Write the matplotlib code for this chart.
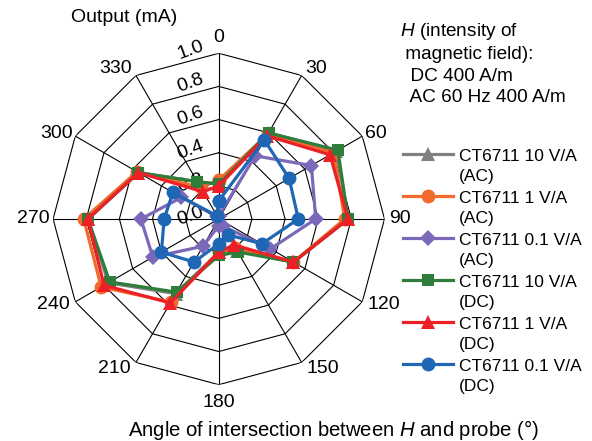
import numpy as np
import matplotlib
matplotlib.use("Agg")
import matplotlib.pyplot as plt
from matplotlib.transforms import offset_copy
from matplotlib.legend_handler import HandlerLine2D
from matplotlib.lines import Line2D

plt.rcParams["font.family"] = ["Liberation Sans", "DejaVu Sans"]
plt.rcParams["mathtext.fontset"] = "custom"
plt.rcParams["mathtext.rm"] = "Liberation Sans"
plt.rcParams["mathtext.it"] = "Liberation Sans:italic"

# -------------------------
# Data: output (mA) vs angle between H and probe
# -------------------------
angles_deg = [0, 30, 60, 90, 120, 150, 180, 210, 240, 270, 300, 330]
angle_labels = ["0", "30", "60", "90", "120", "150", "180", "210", "240", "270", "300", "330"]
r_ticks = [0.0, 0.2, 0.4, 0.6, 0.8, 1.0]

ac_10 = [0.21, 0.60, 0.82, 0.78, 0.52, 0.22, 0.20, 0.52, 0.77, 0.79, 0.56, 0.26]
ac_1 = [0.235, 0.59, 0.80, 0.76, 0.52, 0.20, 0.20, 0.58, 0.82, 0.815, 0.57, 0.22]
ac_01 = [0.02, 0.44, 0.645, 0.585, 0.36, 0.05, 0.04, 0.19, 0.46, 0.47, 0.26, 0.02]
dc_10 = [0.21, 0.60, 0.83, 0.78, 0.52, 0.23, 0.22, 0.51, 0.76, 0.79, 0.56, 0.26]
dc_1 = [0.20, 0.58, 0.775, 0.78, 0.52, 0.18, 0.20, 0.585, 0.80, 0.79, 0.56, 0.19]
dc_01 = [0.11, 0.55, 0.49, 0.48, 0.30, 0.11, 0.15, 0.30, 0.40, 0.33, 0.32, 0.02]

series = [
    ("CT6711 10 V/A\n(AC)", ac_10, "#808080", "^", 10),
    ("CT6711 1 V/A\n(AC)", ac_1, "#F26B2E", "o", 10),
    ("CT6711 0.1 V/A\n(AC)", ac_01, "#7B68B8", "D", 8.5),
    ("CT6711 10 V/A\n(DC)", dc_10, "#2E7D3B", "s", 9),
    ("CT6711 1 V/A\n(DC)", dc_1, "#EE2027", "^", 10),
    ("CT6711 0.1 V/A\n(DC)", dc_01, "#1F66B5", "o", 10),
]

# where each angle label sits relative to its outer vertex (ha, dx px, dy px)
label_place = {
    0: ("center", 0, 16), 30: ("left", 4, 7), 60: ("left", 3, 3),
    90: ("left", 5, 0), 120: ("left", 5, -3), 150: ("left", 5, -6),
    180: ("center", 0, -18), 210: ("right", -5, -6), 240: ("right", -6, -3),
    270: ("right", -3, 0), 300: ("right", -2, 3), 330: ("right", -4, 7),
}


class FirstLineHandler(HandlerLine2D):
    # lift the legend handle so it sits beside the first line of the label
    def create_artists(self, legend, orig_handle, xdescent, ydescent,
                       width, height, fontsize, trans):
        arts = super().create_artists(legend, orig_handle, xdescent, ydescent,
                                      width, height, fontsize, trans)
        for a in arts:
            a.set_ydata(np.asarray(a.get_ydata()) + 0.72 * fontsize)
        return arts


fig = plt.figure(figsize=(5.92, 4.41), dpi=100)
ax = fig.add_axes([0.0897, 0.1277, 0.5598, 0.7515], projection="polar")
ax.set_theta_zero_location("N")
ax.set_theta_direction(-1)
ax.set_ylim(0, 1.0)
ax.grid(False)
ax.spines["polar"].set_visible(False)
ax.set_xticks([])
ax.set_yticks([])
ax.patch.set_alpha(0)

theta = np.deg2rad(angles_deg)
theta_c = np.append(theta, theta[0])

# polygon grid
for rv in r_ticks[1:]:
    ax.plot(theta_c, [rv] * len(theta_c), color="black", lw=0.8, zorder=1)
for t in theta:
    ax.plot([t, t], [0, 1.0], color="black", lw=0.8, zorder=1)

for label, vals, col, mk, ms in series:
    v = np.append(vals, vals[0])
    ax.plot(theta_c, v, color=col, lw=2.3, marker=mk, markersize=ms,
            markeredgewidth=0, label=label, zorder=3, clip_on=False)

# angle labels just outside the outer ring
for a, t, lab in zip(angles_deg, theta, angle_labels):
    ha, dx, dy = label_place[a]
    tr = offset_copy(ax.transData, fig=fig, x=dx, y=dy, units="dots")
    ax.text(t, 1.0, lab, transform=tr, ha=ha, va="center", fontsize=14)

# radial labels along the 0 deg spoke
rtrans = offset_copy(ax.transData, fig=fig, x=-28, y=3, units="dots")
for rv in r_ticks:
    ax.text(0, rv, f"{rv:.1f}", transform=rtrans, ha="center", va="center",
            rotation=20, fontsize=14, zorder=2)

fig.text(124 / 592, 1 - 18 / 441, "Output (mA)", ha="center", va="center", fontsize=14)
fig.text(400 / 592, 1 - 21 / 441,
         "$H$ (intensity of\n magnetic field):\n  DC 400 A/m\n  AC 60 Hz 400 A/m",
         ha="left", va="top", fontsize=13.7, linespacing=1.33)
fig.text(128 / 592, 1 - 430 / 441, "Angle of intersection between $H$ and probe (°)",
         ha="left", va="center", fontsize=14.6)

leg = ax.legend(loc="upper left", bbox_to_anchor=(403 / 592, 1 - 149 / 441),
                bbox_transform=fig.transFigure, frameon=False, fontsize=12.5,
                handlelength=2.9, handletextpad=0.3, labelspacing=0.38,
                borderpad=0, borderaxespad=0,
                handler_map={Line2D: FirstLineHandler()})
for txt in leg.get_texts():
    txt.set_linespacing(1.45)

fig.savefig("out.png", dpi=100)
